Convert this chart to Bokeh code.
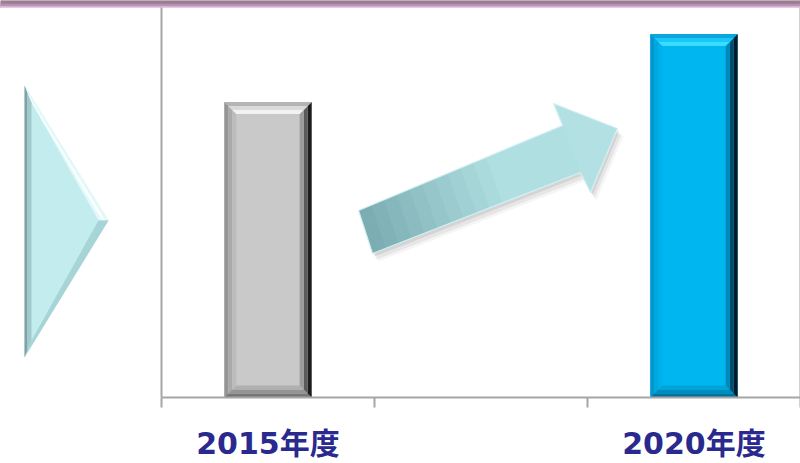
import numpy as np
from bokeh.plotting import figure
from bokeh.models import Range1d, FixedTicker, ColumnDataSource
from bokeh.embed import file_html
from bokeh.resources import INLINE

# ---- data ----
slots = ["2015年度", "", "2020年度"]          # category slots on the x axis
categories = ["2015年度", "2020年度"]
values = [100, 123]
bar_colors = ["#c9c9c9", "#00b6f0"]

xpos = [slots.index(c) for c in categories]
bounds = [i - 0.5 for i in range(len(slots) + 1)]

AX = "#a6a6a6"
LABEL_COLOR = "#2a2a8e"
FONT = "'DejaVu Sans', 'Noto Sans CJK JP', sans-serif"

# ---- layout geometry (page pixels) ----
W, H = 800, 463
AXIS_Y = 397                     # page y of the x axis
CHART_LEFT = 161                 # page x of the left frame line
PX_PER_X = (W - CHART_LEFT) / 3.0
Y_TOP = 132                      # value at the bottom edge of the top band
BAND = 7
PX_PER_Y = (AXIS_Y - BAND) / Y_TOP
x_start = bounds[0] - CHART_LEFT / PX_PER_X
y_end = Y_TOP + BAND / PX_PER_Y

def dx(page_x):      # page pixel -> data x (decorations only)
    return bounds[0] + (page_x - CHART_LEFT) / PX_PER_X
def dy(page_y):      # page pixel -> data y (decorations only)
    return (AXIS_Y - page_y) / PX_PER_Y

p = figure(width=W, height=H, x_range=Range1d(x_start, bounds[-1]), y_range=Range1d(0, y_end),
           toolbar_location=None, output_backend="svg", y_axis_location=None,
           min_border_left=0, min_border_right=0, min_border_top=0,
           min_border_bottom=H - AXIS_Y, outline_line_color=None)
p.grid.visible = False

ax = p.xaxis[0]
ax.bounds = (bounds[0], bounds[-1])
ax.ticker = FixedTicker(ticks=xpos, minor_ticks=bounds)
ax.major_label_overrides = {x: c for x, c in zip(xpos, categories)}
ax.major_tick_out = 0
ax.major_tick_in = 0
ax.minor_tick_out = 10
ax.minor_tick_in = 0
ax.minor_tick_line_color = AX
ax.minor_tick_line_width = 2
ax.axis_line_color = AX
ax.axis_line_width = 2
ax.major_label_standoff = 18
ax.major_label_text_font_size = "30px"
ax.major_label_text_font_style = "bold"
ax.major_label_text_color = LABEL_COLOR
ax.major_label_text_font = FONT

# top band
p.quad(left=x_start, right=bounds[-1], bottom=Y_TOP, top=y_end, color="#9b7c93")
p.quad(left=x_start, right=bounds[-1], bottom=Y_TOP, top=Y_TOP + 1.6 / PX_PER_Y, color="#efc3ef")
p.quad(left=x_start, right=bounds[-1], bottom=Y_TOP + 1.6 / PX_PER_Y, top=Y_TOP + 3.2 / PX_PER_Y, color="#b994ae")

# left & right frame lines of the chart region
p.segment(x0=[bounds[0], bounds[-1]], y0=[0, 0], x1=[bounds[0], bounds[-1]], y1=[Y_TOP, Y_TOP],
          line_color=AX, line_width=2)

# ---- left decoration (bevelled triangle), page coordinates ----
def P(pts):
    return [dx(q[0]) for q in pts], [dy(q[1]) for q in pts]
o1, o2, o3 = (24, 85), (108, 220), (24, 357)
i1, i2, i3 = (31, 102), (98, 220), (31, 340)
xs, ys = P([o1, o2, o3]); p.patch(xs, ys, fill_color="#c3ecee", line_color=None)
xs, ys = P([o1, o2, i2, i1]); p.patch(xs, ys, fill_color="#e2f8f9", line_color=None)
xs, ys = P([(o1[0] + 3, o1[1] + 8), (o2[0] - 3, o2[1]), (o2[0] - 7, o2[1] - 1), (o1[0] + 6, o1[1] + 15)])
p.patch(xs, ys, fill_color="#ffffff", fill_alpha=0.85, line_color=None)
xs, ys = P([o3, o2, i2, i3]); p.patch(xs, ys, fill_color="#a6d4d7", line_color=None)
xs, ys = P([o1, (27, 93), (27, 349), o3]); p.patch(xs, ys, fill_color="#7ea2a5", line_color=None)
xs, ys = P([(27, 93), i1, i3, (27, 349)]); p.patch(xs, ys, fill_color="#a2c9cc", line_color=None)

# ---- arrow (decoration, page coordinates) ----
A = np.array([358, 210.0]); B = np.array([372, 253.0])
C = np.array([580, 172.0]); D = np.array([562, 125.0])
H1 = np.array([553, 103.0]); TIP = np.array([617, 128.0]); H2 = np.array([590, 192.0])
arrow = [A, D, H1, TIP, H2, C, B]
for off, al in [((6, 8), 0.04), ((4, 6), 0.06), ((2, 3), 0.08)]:
    xs, ys = P([(q[0] + off[0], q[1] + off[1]) for q in arrow])
    p.patch(xs, ys, fill_color="#000000", fill_alpha=al, line_color=None)
xs, ys = P(arrow); p.patch(xs, ys, fill_color="#b2e0e3", line_color=None)
c0 = np.array([0x7a, 0xab, 0xb0]); c1 = np.array([0xb0, 0xdf, 0xe2])
N = 16
for k in range(N):
    t0, t1 = k / N, (k + 1) / N
    t1e = min(1.0, t1 + 0.01)
    u = min(1.0, ((t0 + t1) / 2) / 0.65)
    col = c0 + (c1 - c0) * u
    hexc = "#%02x%02x%02x" % tuple(int(v) for v in col)
    q = [A + t0 * (D - A), A + t1e * (D - A), B + t1e * (C - B), B + t0 * (C - B)]
    xs, ys = P(q); p.patch(xs, ys, fill_color=hexc, line_color=None)
xs, ys = P(arrow); p.patch(xs, ys, fill_color=None, line_color="#d4f0f2", line_width=1.2)

# ---- bars ----
src = ColumnDataSource(dict(x=xpos, top=values, color=bar_colors))
BW = 0.41
p.vbar(x="x", top="top", width=BW, source=src, fill_color="color", line_color=None)

bevel_colors = [
    dict(top=["#b4b4b4", "#dadada", "#f2f2f2"], right=["#1c1c1c", "#5a5a5a", "#9c9c9c"],
         left=["#959595", "#aaaaaa", "#bcbcbc"], bottom=["#777777", "#949494", "#b0b0b0"]),
    dict(top=["#0aa6dc", "#19c8f8", "#3adcff"], right=["#001c2c", "#004c6c", "#0088b8"],
         left=["#0096ce", "#00a6de", "#00b0ea"], bottom=["#00709c", "#008cbc", "#00a4d8"]),
]
bx = 12 / PX_PER_X
by = 12 / PX_PER_Y
steps = [0, 0.33, 0.66, 1.0]
for xc, v, cols in zip(xpos, values, bevel_colors):
    L, R, Bt, T = xc - BW / 2, xc + BW / 2, 0, v
    def rect(d):
        return L + d * bx, R - d * bx, Bt + d * by, T - d * by
    for j, (d0, d1) in enumerate(zip(steps[:-1], steps[1:])):
        oL, oR, oB, oT = rect(d0)
        iL, iR, iB, iT = rect(d1)
        sides = dict(
            top=[(oL, oT), (oR, oT), (iR, iT), (iL, iT)],
            right=[(oR, oT), (oR, oB), (iR, iB), (iR, iT)],
            left=[(oL, oT), (iL, iT), (iL, iB), (oL, oB)],
            bottom=[(oL, oB), (iL, iB), (iR, iB), (oR, oB)],
        )
        for s in ["left", "bottom", "right", "top"]:
            pts = sides[s]
            p.patch([q[0] for q in pts], [q[1] for q in pts], fill_color=cols[s][j], line_color=None)

open("out.html", "w").write(file_html(p, INLINE))
